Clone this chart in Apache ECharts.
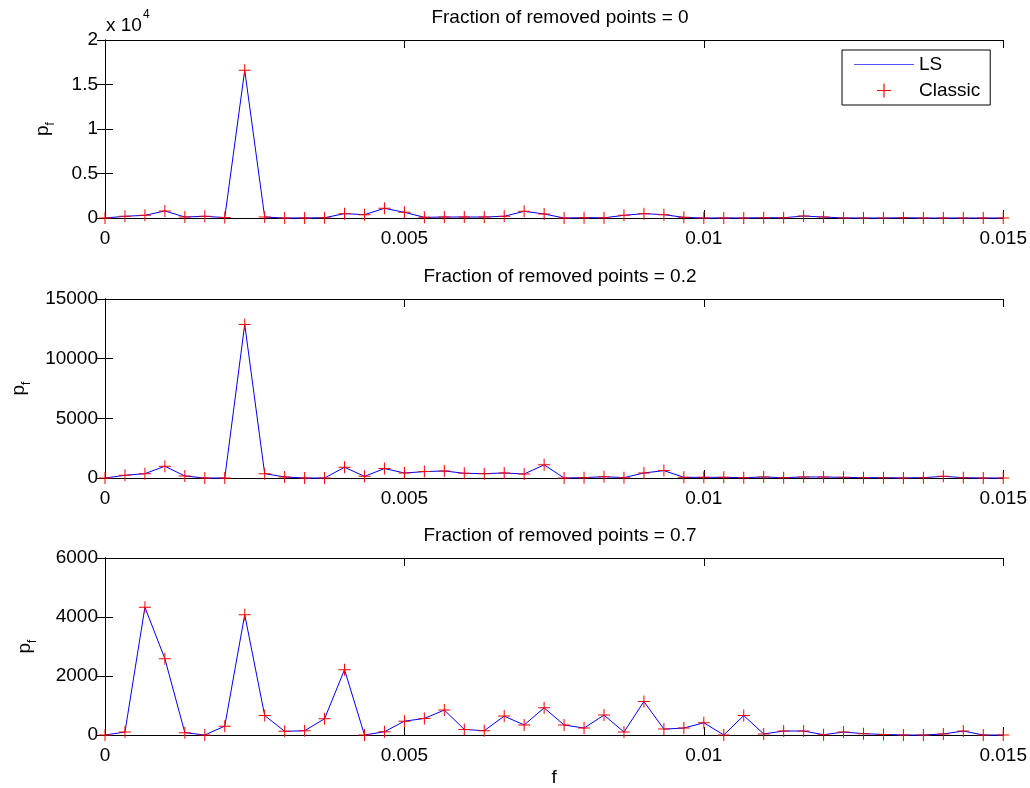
<!DOCTYPE html>
<html>
<head>
<meta charset="utf-8">
<script src="https://cdn.jsdelivr.net/npm/echarts@6/dist/echarts.min.js"></script>
<style>html,body{margin:0;padding:0;background:#fff}#c{width:1030px;height:788px}</style>
</head>
<body>
<div id="c"></div>
<script>
// frequency grid (46 points)
const freqs = [0, 0.000333333, 0.000666667, 0.001, 0.00133333, 0.00166667, 0.002, 0.00233333, 0.00266667, 0.003,
  0.00333333, 0.00366667, 0.004, 0.00433333, 0.00466667, 0.005, 0.00533333, 0.00566667, 0.006, 0.00633333,
  0.00666667, 0.007, 0.00733333, 0.00766667, 0.008, 0.00833333, 0.00866667, 0.009, 0.00933333, 0.00966667,
  0.01, 0.0103333, 0.0106667, 0.011, 0.0113333, 0.0116667, 0.012, 0.0123333, 0.0126667, 0.013,
  0.0133333, 0.0136667, 0.014, 0.0143333, 0.0146667, 0.015];

const titles = ['Fraction of removed points = 0', 'Fraction of removed points = 0.2', 'Fraction of removed points = 0.7'];

// LS periodogram values
const ls0 = [0,190,300,790,110,190,50,16600,110,0,10,30,490,375,1090,640,75,110,110,110,190,750,450,0,40,20,300,490,375,75,0,10,10,30,30,220,110,10,0,0,30,0,0,0,0,0];
const ls1 = [0,225,365,985,170,0,0,12870,365,85,0,0,900,140,790,420,535,590,395,365,420,335,1100,0,30,110,30,420,620,55,55,55,30,85,30,85,85,55,30,30,10,30,140,30,0,0];
const ls2 = [0,100,4330,2585,80,0,300,4080,660,125,145,550,2215,0,110,470,560,845,190,145,640,340,920,340,235,675,100,1135,200,235,415,0,660,35,135,135,10,100,45,20,0,0,35,135,0,0];

// Classic periodogram values (coincide with LS at the plotted resolution)
const classic0 = [0,190,300,790,110,190,50,16600,110,0,10,30,490,375,1090,640,75,110,110,110,190,750,450,0,40,20,300,490,375,75,0,10,10,30,30,220,110,10,0,0,30,0,0,0,0,0];
const classic1 = [0,225,365,985,170,0,0,12870,365,85,0,0,900,140,790,420,535,590,395,365,420,335,1100,0,30,110,30,420,620,55,55,55,30,85,30,85,85,55,30,30,10,30,140,30,0,0];
const classic2 = [0,100,4330,2585,80,0,300,4080,660,125,145,550,2215,0,110,470,560,845,190,145,640,340,920,340,235,675,100,1135,200,235,415,0,660,35,135,135,10,100,45,20,0,0,35,135,0,0];

const yMax = [20000, 15000, 6000];
const yStep = [5000, 5000, 2000];
const xTicks = {min: 0, max: 0.015, interval: 0.005};

const lsData = [ls0, ls1, ls2];
const classicData = [classic0, classic1, classic2];

const FONT = 'Liberation Sans, Arial, sans-serif';
const FS = 19;
const gridTops = [40, 299, 558];
const gridH = [178, 179, 179];
const nameGaps = [52, 76, 70];

const plus = 'path://M0,5.5 L12,5.5 L12,6.5 L0,6.5 Z M5.5,0 L6.5,0 L6.5,12 L5.5,12 Z';
const dash = 'path://M0,0 L60,0 L60,1.2 L0,1.2 Z';

const grids = [], xAxes = [], yAxes = [], series = [], titleArr = [];
const lineBlack = {show: true, lineStyle: {color: '#000', width: 1}};
for (let i = 0; i < 3; i++) {
  grids.push({left: 105, width: 900, top: gridTops[i], height: gridH[i], containLabel: false});
  titleArr.push({text: titles[i], left: 555, textAlign: 'center', top: gridTops[i] - 37,
    textStyle: {fontFamily: FONT, fontSize: FS, fontWeight: 'normal', color: '#000'}});
}
for (let i = 0; i < 3; i++) {
  xAxes.push({type: 'value', gridIndex: i, position: 'bottom', min: xTicks.min, max: xTicks.max, interval: xTicks.interval,
    axisLine: Object.assign({onZero: false}, lineBlack), axisTick: {show: true, inside: true, length: 8, lineStyle: {color: '#000'}},
    splitLine: {show: false},
    axisLabel: {color: '#000', fontFamily: FONT, fontSize: FS, margin: 11},
    name: i === 2 ? 'f' : '', nameLocation: 'middle', nameGap: 33,
    nameTextStyle: {color: '#000', fontFamily: FONT, fontSize: FS}});
  yAxes.push({type: 'value', gridIndex: i, position: 'left', min: 0, max: yMax[i], interval: yStep[i],
    axisLine: lineBlack, axisTick: {show: true, inside: true, length: 8, lineStyle: {color: '#000'}},
    splitLine: {show: false},
    axisLabel: {color: '#000', fontFamily: FONT, fontSize: FS, margin: 7,
      formatter: i === 0 ? (v => String(v / 10000)) : (v => String(v))},
    name: '{p|p}{s|f}', nameLocation: 'middle', nameGap: nameGaps[i],
    nameTextStyle: {color: '#000', fontFamily: FONT,
      rich: {p: {fontSize: FS, lineHeight: 20, verticalAlign: 'top', fontFamily: FONT, color: '#000'},
             s: {fontSize: 12, lineHeight: 12, padding: [12, 0, 0, 0], verticalAlign: 'top', fontFamily: FONT, color: '#000'}}}});
}
for (let i = 0; i < 3; i++) {
  xAxes.push({type: 'value', gridIndex: i, position: 'top', min: xTicks.min, max: xTicks.max, interval: xTicks.interval,
    axisLine: Object.assign({onZero: false}, lineBlack), axisTick: {show: true, inside: true, length: 8, lineStyle: {color: '#000'}},
    splitLine: {show: false}, axisLabel: {show: false}});
  yAxes.push({type: 'value', gridIndex: i, position: 'right', min: 0, max: yMax[i], interval: yStep[i],
    axisLine: lineBlack, axisTick: {show: true, inside: true, length: 8, lineStyle: {color: '#000'}},
    splitLine: {show: false}, axisLabel: {show: false}});
}
for (let i = 0; i < 3; i++) {
  series.push({name: 'LS', type: 'line', xAxisIndex: i, yAxisIndex: i,
    data: freqs.map((f, k) => [f, lsData[i][k]]),
    symbol: 'none', showSymbol: false, lineStyle: {color: '#0000ff', width: 1}, itemStyle: {color: '#0000ff'},
    z: 2, clip: false});
  series.push({name: 'Classic', type: 'scatter', xAxisIndex: i, yAxisIndex: i,
    data: freqs.map((f, k) => [f, classicData[i][k]]),
    symbol: plus, symbolSize: 12, itemStyle: {color: '#ff0000', opacity: 1},
    z: 3, clip: false});
}

const chart = echarts.init(document.getElementById('c'), null, {renderer: 'canvas'});
chart.setOption({
  animation: false,
  backgroundColor: '#fff',
  title: titleArr,
  grid: grids,
  xAxis: xAxes,
  yAxis: yAxes,
  series: series,
  legend: {
    left: 842, top: 50, orient: 'vertical',
    data: [{name: 'LS', icon: dash, itemStyle: {color: '#5555ff'}}, {name: 'Classic', icon: plus}],
    itemWidth: 60, itemHeight: 14, itemGap: 7, padding: [5, 10, 5, 12],
    borderColor: '#000', borderWidth: 1, backgroundColor: '#fff', borderRadius: 0,
    textStyle: {color: '#000', fontFamily: FONT, fontSize: FS},
    selectedMode: false
  },
  graphic: [{
    type: 'text', left: 106, top: 9,
    style: {text: '{a|x 10}{b|4}', fill: '#000',
      rich: {a: {fontSize: FS, lineHeight: 20, verticalAlign: 'bottom', fontFamily: FONT, fill: '#000'},
             b: {fontSize: 12, lineHeight: 12, padding: [0, 0, 14, 1], verticalAlign: 'bottom', fontFamily: FONT, fill: '#000'}}}
  }]
});
</script>
</body>
</html>
